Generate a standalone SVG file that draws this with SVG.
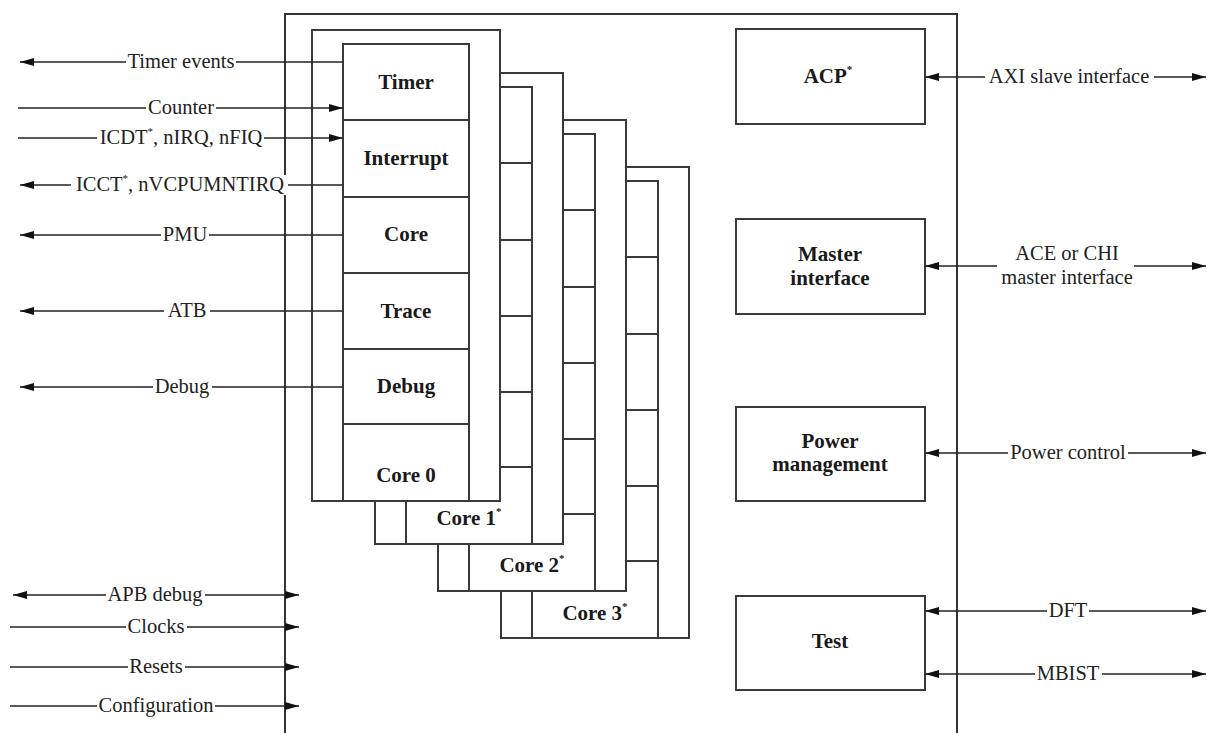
<svg xmlns="http://www.w3.org/2000/svg" width="1207" height="733" viewBox="0 0 1207 733">
<style>
.frame{fill:#fff;stroke:#3a3a3a;stroke-width:2}
.div{stroke:#3a3a3a;stroke-width:2}
.box{fill:#fff;stroke:#3a3a3a;stroke-width:2}
.bl{font-family:"Liberation Serif","Times New Roman",serif;font-weight:bold;font-size:21px;fill:#1a1a1a;text-anchor:middle}
.lb{font-family:"Liberation Serif","Times New Roman",serif;font-size:20.5px;fill:#222;text-anchor:middle}
.sup{font-size:11px}
.cn{stroke:#222;stroke-width:1.4;fill:none}
.bg{fill:#fff}
</style>
<defs>
<marker id="ah" markerUnits="userSpaceOnUse" markerWidth="15" markerHeight="10" refX="14" refY="4" orient="auto-start-reverse" viewBox="0 0 15 8"><path d="M0,0 L14,4 L0,8 z" fill="#111"/></marker>
<g id="core">
<rect class="frame" x="312" y="30" width="188" height="471"/>
<rect class="frame" x="343" y="44" width="126" height="457"/>
<path class="div" d="M343,120H469M343,197H469M343,273H469M343,349H469M343,424H469"/>
</g>
</defs>
<path class="cn" style="stroke:#333;stroke-width:2" d="M285,733V14H957V733"/>
<g id="core3">
<use href="#core" transform="translate(189,137)"/>
<text class="bl" x="595" y="620">Core 3<tspan class="sup" dy="-10">*</tspan></text>
</g>
<g id="core2">
<use href="#core" transform="translate(126,90)"/>
<text class="bl" x="532" y="572">Core 2<tspan class="sup" dy="-10">*</tspan></text>
</g>
<g id="core1">
<use href="#core" transform="translate(63,43)"/>
<text class="bl" x="469" y="525">Core 1<tspan class="sup" dy="-10">*</tspan></text>
</g>
<g id="core0">
<use href="#core"/>
<text class="bl" x="406" y="89">Timer</text>
<text class="bl" x="406" y="165">Interrupt</text>
<text class="bl" x="406" y="241">Core</text>
<text class="bl" x="406" y="318">Trace</text>
<text class="bl" x="406" y="393">Debug</text>
<text class="bl" x="406" y="482">Core 0</text>
</g>
<g id="acp">
<rect class="box" x="736" y="29" width="189" height="95"/>
<text class="bl" x="828" y="83">ACP<tspan class="sup" dy="-10">*</tspan></text>
</g>
<g id="master">
<rect class="box" x="736" y="219" width="189" height="95"/>
<text class="bl" x="830" y="261">Master</text>
<text class="bl" x="830" y="285">interface</text>
</g>
<g id="power">
<rect class="box" x="736" y="407" width="189" height="94"/>
<text class="bl" x="830" y="448">Power</text>
<text class="bl" x="830" y="471">management</text>
</g>
<g id="test">
<rect class="box" x="736" y="596" width="189" height="94"/>
<text class="bl" x="830" y="648">Test</text>
</g>
<g id="connectors">
<path class="cn" d="M343,62H20" marker-end="url(#ah)"/>
<path class="cn" d="M18,108H343" marker-end="url(#ah)"/>
<path class="cn" d="M18,138H343" marker-end="url(#ah)"/>
<path class="cn" d="M343,185H20" marker-end="url(#ah)"/>
<path class="cn" d="M343,235H20" marker-end="url(#ah)"/>
<path class="cn" d="M343,311H20" marker-end="url(#ah)"/>
<path class="cn" d="M343,387H20" marker-end="url(#ah)"/>
<path class="cn" d="M13,595H299" marker-start="url(#ah)" marker-end="url(#ah)"/>
<path class="cn" d="M10,627H299" marker-end="url(#ah)"/>
<path class="cn" d="M10,667H299" marker-end="url(#ah)"/>
<path class="cn" d="M10,706H299" marker-end="url(#ah)"/>
<path class="cn" d="M925,77H1206" marker-start="url(#ah)" marker-end="url(#ah)"/>
<path class="cn" d="M925,266H1206" marker-start="url(#ah)" marker-end="url(#ah)"/>
<path class="cn" d="M925,453H1206" marker-start="url(#ah)" marker-end="url(#ah)"/>
<path class="cn" d="M925,611H1206" marker-start="url(#ah)" marker-end="url(#ah)"/>
<path class="cn" d="M925,674H1206" marker-start="url(#ah)" marker-end="url(#ah)"/>
<rect class="bg" x="126" y="52" width="110" height="20"/>
<text class="lb" x="181" y="68">Timer events</text>
<rect class="bg" x="146" y="98" width="70" height="20"/>
<text class="lb" x="181" y="114">Counter</text>
<rect class="bg" x="97" y="128" width="167" height="20"/>
<text class="lb" x="181" y="144">ICDT<tspan class="sup" dy="-9">*</tspan><tspan dy="9">, nIRQ, nFIQ</tspan></text>
<rect class="bg" x="71" y="175" width="217" height="20"/>
<text class="lb" x="180" y="191">ICCT<tspan class="sup" dy="-9">*</tspan><tspan dy="9">, nVCPUMNTIRQ</tspan></text>
<rect class="bg" x="161" y="225" width="48" height="20"/>
<text class="lb" x="185" y="241">PMU</text>
<rect class="bg" x="164" y="301" width="46" height="20"/>
<text class="lb" x="187" y="317">ATB</text>
<rect class="bg" x="153" y="377" width="59" height="20"/>
<text class="lb" x="182" y="393">Debug</text>
<rect class="bg" x="106" y="585" width="99" height="20"/>
<text class="lb" x="155" y="601">APB debug</text>
<rect class="bg" x="126" y="617" width="61" height="20"/>
<text class="lb" x="156" y="633">Clocks</text>
<rect class="bg" x="128" y="657" width="57" height="20"/>
<text class="lb" x="156" y="673">Resets</text>
<rect class="bg" x="97" y="696" width="118" height="20"/>
<text class="lb" x="156" y="712">Configuration</text>
<rect class="bg" x="985" y="67" width="169" height="20"/>
<text class="lb" x="1069" y="83">AXI slave interface</text>
<rect class="bg" x="997" y="243" width="137" height="46"/>
<text class="lb" x="1067" y="260">ACE or CHI</text>
<text class="lb" x="1067" y="284">master interface</text>
<rect class="bg" x="1008" y="443" width="120" height="20"/>
<text class="lb" x="1068" y="459">Power control</text>
<rect class="bg" x="1047" y="601" width="42" height="20"/>
<text class="lb" x="1068" y="617">DFT</text>
<rect class="bg" x="1035" y="664" width="67" height="20"/>
<text class="lb" x="1068" y="680">MBIST</text>
</g>
</svg>
